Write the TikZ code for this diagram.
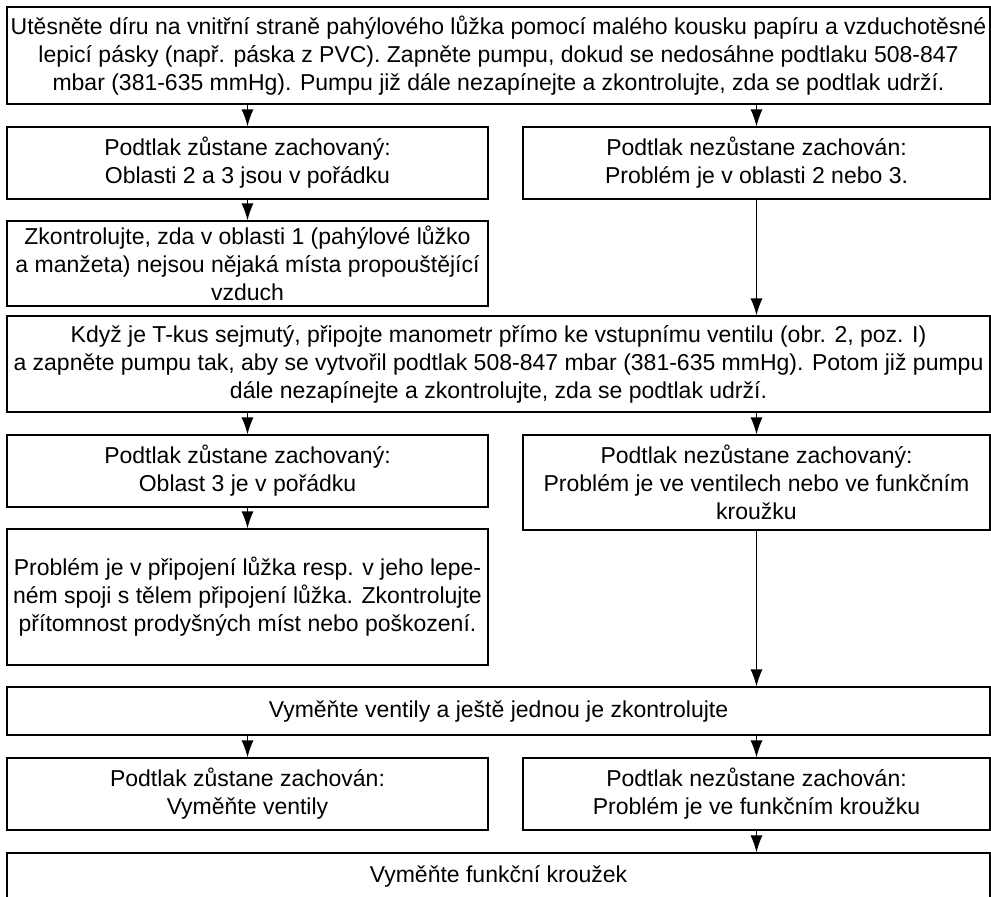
\documentclass[tikz,border=0pt]{standalone}
\usepackage{fontspec}
\setmainfont{Liberation Sans}
\usetikzlibrary{arrows.meta}

\begin{document}
\begin{tikzpicture}[x=0.5pt,y=-0.5pt,->,>={Latex[length=8.5pt,width=6pt]},
                    line width=0.6pt,
                    box/.style={draw,rectangle,align=center,inner sep=0pt,
                      font=\fontsize{11.5}{14}\selectfont},
                    wide/.style={box,minimum width=491.5pt},
                    lcol/.style={box,minimum width=240.5pt},
                    rcol/.style={box,minimum width=233.5pt}]
  \useasboundingbox (0,0) rectangle (991,896);

  \node[wide,minimum height=48.5pt] (T) at (498.5,55.5)
    {Utěsněte díru na vnitřní straně pahýlového lůžka pomocí malého kousku papíru a vzduchotěsné\\
     lepicí pásky (např. páska z PVC). Zapněte pumpu, dokud se nedosáhne podtlaku 508-847\\
     mbar (381-635 mmHg). Pumpu již dále nezapínejte a zkontrolujte, zda se podtlak udrží.};
  \node[lcol,minimum height=36pt]   (A) at (247.5,163)
    {Podtlak zůstane zachovaný:\\ Oblasti 2 a 3 jsou v pořádku};
  \node[rcol,minimum height=36pt]   (B) at (756.5,163)
    {Podtlak nezůstane zachován:\\ Problém je v oblasti 2 nebo 3.};
  \node[lcol,minimum height=42.5pt] (C) at (247.5,263.5)
    {Zkontrolujte, zda v oblasti 1 (pahýlové lůžko\\ a manžeta) nejsou nějaká místa propouštějící\\ vzduch};
  \node[wide,minimum height=48pt]   (D) at (498.5,364)
    {Když je T-kus sejmutý, připojte manometr přímo ke vstupnímu ventilu (obr. 2, poz. I)\\
     a zapněte pumpu tak, aby se vytvořil podtlak 508-847 mbar (381-635 mmHg). Potom již pumpu\\
     dále nezapínejte a zkontrolujte, zda se podtlak udrží.};
  \node[lcol,minimum height=36pt]   (E) at (247.5,471)
    {Podtlak zůstane zachovaný:\\ Oblast 3 je v pořádku};
  \node[rcol,minimum height=47.5pt] (F) at (756.5,482.5)
    {Podtlak nezůstane zachovaný:\\ Problém je ve ventilech nebo ve funkčním\\ kroužku};
  \node[lcol,minimum height=68pt]   (G) at (247.5,597)
    {Problém je v připojení lůžka resp. v jeho lepe-\\ ném spoji s tělem připojení lůžka. Zkontrolujte\\ přítomnost prodyšných míst nebo poškození.};
  \node[wide,minimum height=24pt]   (H) at (498.5,711)
    {Vyměňte ventily a ještě jednou je zkontrolujte};
  \node[lcol,minimum height=36pt]   (I) at (247.5,794)
    {Podtlak zůstane zachován:\\ Vyměňte ventily};
  \node[rcol,minimum height=36pt]   (J) at (756.5,794)
    {Podtlak nezůstane zachován:\\ Problém je ve funkčním kroužku};
  \node[wide,minimum height=23pt]   (K) at (498.5,876)
    {Vyměňte funkční kroužek};

  \draw (T.south -| A.north) -- (A.north);
  \draw (T.south -| B.north) -- (B.north);
  \draw (A.south) -- (C.north);
  \draw (B.south) -- (B.south |- D.north);
  \draw (D.south -| E.north) -- (E.north);
  \draw (D.south -| F.north) -- (F.north);
  \draw (E.south) -- (G.north);
  \draw (F.south) -- (F.south |- H.north);
  \draw (H.south -| I.north) -- (I.north);
  \draw (H.south -| J.north) -- (J.north);
  \draw (J.south) -- (J.south |- K.north);
\end{tikzpicture}
\end{document}
